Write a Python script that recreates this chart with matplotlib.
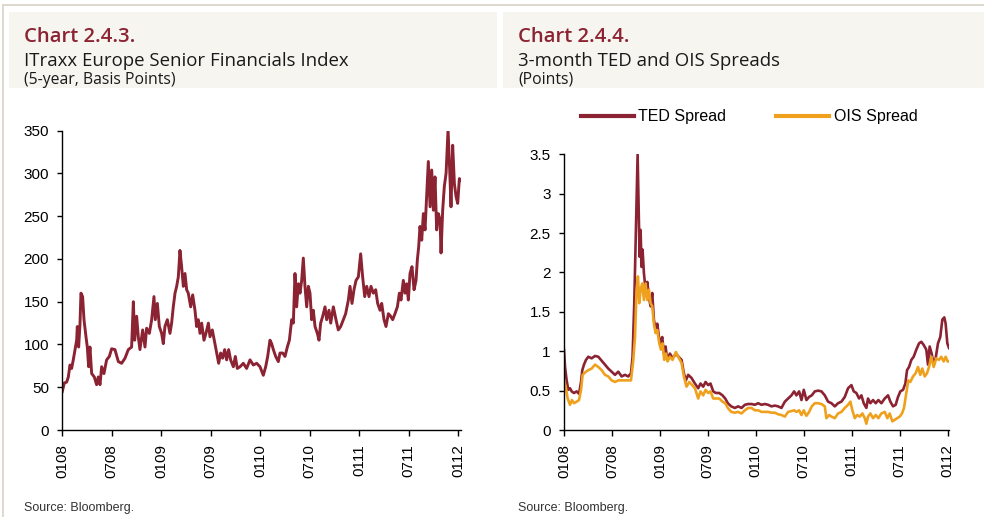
import matplotlib
matplotlib.use("Agg")
import matplotlib.pyplot as plt
from matplotlib.patches import Rectangle
from matplotlib.lines import Line2D
from matplotlib.ticker import FuncFormatter

# ---------------- data ----------------
tick_months = [0, 6, 12, 18, 24, 30, 36, 42, 48]
tick_labels = ["0108", "0708", "0109", "0709", "0110", "0710", "0111", "0711", "0112"]

# months since Jan 2008
itraxx_month = [
    0.00, 0.24, 0.53, 0.73, 0.93, 1.13, 1.33, 1.54, 1.74, 1.82,
    1.98, 2.14, 2.26, 2.46, 2.63, 2.87, 3.03, 3.19, 3.35, 3.56,
    3.88, 4.16, 4.36, 4.57, 4.77, 5.05, 5.37, 5.70, 5.98, 6.38,
    6.79, 7.19, 7.60, 8.00, 8.40, 8.61, 8.77, 9.01, 9.21, 9.41,
    9.74, 10.02, 10.22, 10.55, 10.83, 11.11, 11.27, 11.52, 11.76, 12.04,
    12.24, 12.44, 12.73, 13.05, 13.25, 13.45, 13.66, 13.86, 14.06, 14.26,
    14.46, 14.67, 14.87, 15.07, 15.27, 15.56, 15.80, 16.08, 16.28, 16.48,
    16.69, 16.89, 17.17, 17.41, 17.70, 17.90, 18.18, 18.42, 18.71, 18.95,
    19.19, 19.43, 19.68, 19.92, 20.16, 20.40, 20.73, 20.97, 21.21, 21.54,
    21.94, 22.34, 22.75, 23.15, 23.56, 23.96, 24.36, 24.65, 24.89, 25.17,
    25.37, 25.58, 25.86, 26.18, 26.38, 26.71, 26.99, 27.27, 27.52, 27.80,
    28.00, 28.20, 28.40, 28.61, 28.81, 29.01, 29.21, 29.41, 29.62, 29.82,
    30.02, 30.22, 30.42, 30.63, 30.91, 31.11, 31.31, 31.56, 31.84, 32.04,
    32.32, 32.53, 32.85, 33.17, 33.45, 33.74, 34.06, 34.34, 34.67, 34.87,
    35.11, 35.35, 35.60, 35.88, 36.16, 36.40, 36.65, 36.89, 37.17, 37.41,
    37.70, 37.98, 38.22, 38.51, 38.71, 38.99, 39.23, 39.52, 39.80, 40.04,
    40.32, 40.61, 40.85, 41.05, 41.33, 41.54, 41.74, 41.94, 42.14, 42.38,
    42.63, 42.87, 43.03, 43.19, 43.35, 43.56, 43.76, 43.96, 44.16, 44.36,
    44.57, 44.77, 44.97, 45.17, 45.37, 45.58, 45.78, 45.90, 46.10, 46.30,
    46.51, 46.75, 46.95, 47.11, 47.31, 47.52, 47.72, 47.92, 48.12, 48.32,
]
itraxx_bp = [
    45, 55, 56, 62, 76, 72, 82, 94, 105, 121,
    97, 123, 160, 156, 129, 109, 97, 74, 97, 66,
    62, 53, 62, 53, 74, 66, 82, 86, 95, 94,
    80, 78, 84, 94, 97, 150, 105, 133, 109, 94,
    117, 97, 119, 113, 129, 156, 129, 148, 121, 113,
    101, 121, 129, 113, 125, 144, 160, 168, 179, 210,
    191, 168, 183, 164, 160, 144, 158, 140, 121, 129,
    113, 125, 105, 113, 125, 109, 117, 105, 90, 78,
    90, 84, 94, 82, 94, 82, 74, 86, 72, 74,
    78, 72, 82, 76, 78, 74, 64, 74, 86, 105,
    101, 94, 86, 80, 90, 90, 86, 97, 105, 129,
    125, 183, 144, 171, 160, 175, 201, 168, 144, 168,
    160, 129, 140, 121, 113, 105, 125, 133, 144, 129,
    140, 125, 144, 129, 117, 121, 129, 136, 152, 168,
    148, 164, 175, 179, 206, 179, 156, 168, 156, 168,
    160, 164, 148, 140, 148, 129, 121, 136, 133, 129,
    136, 144, 160, 152, 175, 160, 171, 152, 183, 191,
    164, 175, 199, 214, 238, 222, 253, 234, 273, 314,
    261, 304, 257, 296, 234, 253, 246, 207, 257, 285,
    300, 351, 304, 261, 333, 288, 273, 265, 294, 292,
]

ted_month = [
    0.00, 0.13, 0.33, 0.54, 0.75, 0.96, 1.25, 1.58, 1.88, 2.13,
    2.29, 2.50, 2.75, 3.04, 3.46, 3.88, 4.29, 4.71, 5.13, 5.54,
    5.96, 6.38, 6.79, 7.21, 7.63, 8.04, 8.38, 8.58, 8.79, 8.96,
    9.08, 9.21, 9.33, 9.46, 9.58, 9.71, 9.83, 10.00, 10.21, 10.42,
    10.63, 10.83, 11.04, 11.25, 11.46, 11.67, 11.88, 12.08, 12.29, 12.50,
    12.71, 12.92, 13.25, 13.58, 14.00, 14.33, 14.71, 15.00, 15.25, 15.54,
    15.96, 16.38, 16.79, 17.08, 17.42, 17.71, 18.04, 18.33, 18.67, 19.00,
    19.42, 19.83, 20.17, 20.50, 20.92, 21.38, 21.79, 22.21, 22.63, 23.04,
    23.46, 23.88, 24.29, 24.71, 25.13, 25.54, 25.96, 26.38, 26.79, 27.21,
    27.63, 28.04, 28.46, 28.79, 29.08, 29.42, 29.71, 30.00, 30.33, 30.67,
    31.00, 31.38, 31.79, 32.21, 32.63, 33.04, 33.46, 33.88, 34.29, 34.71,
    35.13, 35.54, 35.96, 36.25, 36.58, 36.92, 37.21, 37.50, 37.83, 38.04,
    38.33, 38.67, 39.00, 39.33, 39.71, 40.13, 40.54, 40.83, 41.17, 41.50,
    41.79, 42.08, 42.42, 42.71, 42.92, 43.17, 43.46, 43.75, 44.08, 44.42,
    44.71, 45.00, 45.33, 45.54, 45.75, 46.00, 46.25, 46.50, 46.79, 47.08,
    47.33, 47.58, 47.75, 47.96, 48.17,
]
ted_spread = [
    1.02, 0.80, 0.63, 0.51, 0.53, 0.49, 0.47, 0.49, 0.46, 0.61,
    0.76, 0.83, 0.89, 0.93, 0.91, 0.94, 0.93, 0.88, 0.83, 0.78,
    0.74, 0.70, 0.74, 0.68, 0.70, 0.68, 0.72, 0.93, 1.61, 2.37,
    2.96, 3.50, 2.84, 2.20, 2.54, 2.07, 2.29, 1.99, 1.78, 1.88,
    1.69, 1.57, 1.74, 1.40, 1.27, 1.35, 1.18, 1.10, 1.18, 0.97,
    1.06, 0.89, 0.97, 0.91, 0.97, 0.93, 0.89, 0.72, 0.63, 0.70,
    0.66, 0.59, 0.53, 0.59, 0.55, 0.61, 0.57, 0.59, 0.49, 0.47,
    0.47, 0.44, 0.40, 0.34, 0.30, 0.28, 0.30, 0.28, 0.32, 0.33,
    0.33, 0.32, 0.34, 0.32, 0.33, 0.32, 0.30, 0.31, 0.30, 0.28,
    0.36, 0.40, 0.44, 0.49, 0.44, 0.49, 0.38, 0.51, 0.38, 0.42,
    0.44, 0.49, 0.50, 0.49, 0.44, 0.36, 0.34, 0.30, 0.34, 0.36,
    0.42, 0.53, 0.57, 0.49, 0.47, 0.40, 0.44, 0.34, 0.28, 0.40,
    0.34, 0.38, 0.34, 0.38, 0.34, 0.40, 0.44, 0.36, 0.30, 0.32,
    0.42, 0.49, 0.51, 0.59, 0.76, 0.80, 0.89, 0.93, 1.02, 1.10,
    1.12, 1.08, 1.02, 0.83, 1.06, 0.97, 0.83, 0.91, 1.10, 1.18,
    1.40, 1.43, 1.35, 1.10, 1.04,
]

ois_month = [
    0.00, 0.21, 0.46, 0.75, 1.00, 1.25, 1.58, 1.88, 2.13, 2.33,
    2.63, 3.04, 3.46, 3.88, 4.29, 4.71, 5.13, 5.54, 5.96, 6.38,
    6.79, 7.21, 7.63, 8.04, 8.38, 8.67, 8.88, 9.08, 9.25, 9.42,
    9.58, 9.79, 10.00, 10.21, 10.42, 10.63, 10.83, 11.04, 11.25, 11.46,
    11.67, 11.92, 12.13, 12.33, 12.54, 12.75, 12.96, 13.25, 13.58, 14.00,
    14.29, 14.71, 15.00, 15.33, 15.67, 16.04, 16.38, 16.79, 17.08, 17.42,
    17.71, 18.04, 18.33, 18.67, 19.08, 19.42, 19.83, 20.17, 20.50, 20.92,
    21.38, 21.79, 22.21, 22.63, 23.04, 23.46, 23.88, 24.29, 24.71, 25.13,
    25.54, 25.96, 26.38, 26.79, 27.21, 27.63, 28.04, 28.46, 28.79, 29.08,
    29.42, 29.71, 30.00, 30.33, 30.67, 31.00, 31.38, 31.79, 32.21, 32.63,
    32.83, 33.17, 33.46, 33.88, 34.29, 34.71, 35.13, 35.54, 35.83, 36.08,
    36.38, 36.67, 37.00, 37.33, 37.63, 37.83, 38.04, 38.33, 38.67, 39.00,
    39.33, 39.71, 40.13, 40.46, 40.75, 41.08, 41.38, 41.67, 42.00, 42.29,
    42.54, 42.75, 43.08, 43.33, 43.67, 44.00, 44.29, 44.58, 44.83, 45.13,
    45.42, 45.67, 45.96, 46.25, 46.58, 46.92, 47.21, 47.50, 47.75, 48.00,
    48.17,
]
ois_spread = [
    0.63, 0.55, 0.40, 0.32, 0.38, 0.34, 0.36, 0.38, 0.51, 0.70,
    0.73, 0.76, 0.78, 0.83, 0.80, 0.76, 0.70, 0.68, 0.63, 0.61,
    0.63, 0.63, 0.63, 0.63, 0.63, 0.89, 1.18, 1.78, 1.95, 1.61,
    1.78, 1.86, 1.65, 1.86, 1.65, 1.78, 1.61, 1.57, 1.35, 1.23,
    1.27, 1.10, 1.02, 1.10, 0.89, 0.97, 0.87, 0.93, 0.89, 0.99,
    0.93, 0.85, 0.68, 0.55, 0.61, 0.57, 0.53, 0.40, 0.49, 0.44,
    0.51, 0.47, 0.49, 0.40, 0.40, 0.40, 0.36, 0.34, 0.28, 0.23,
    0.22, 0.23, 0.21, 0.25, 0.28, 0.28, 0.25, 0.25, 0.23, 0.23,
    0.23, 0.22, 0.22, 0.20, 0.19, 0.17, 0.23, 0.24, 0.25, 0.23,
    0.25, 0.19, 0.25, 0.18, 0.23, 0.30, 0.34, 0.34, 0.33, 0.30,
    0.15, 0.19, 0.17, 0.15, 0.21, 0.23, 0.28, 0.32, 0.36, 0.25,
    0.15, 0.19, 0.17, 0.21, 0.15, 0.08, 0.17, 0.21, 0.15, 0.19,
    0.15, 0.21, 0.23, 0.15, 0.21, 0.11, 0.13, 0.15, 0.17, 0.21,
    0.28, 0.42, 0.63, 0.61, 0.68, 0.72, 0.80, 0.70, 0.78, 0.68,
    0.72, 0.80, 0.93, 0.80, 0.91, 0.89, 0.93, 0.87, 0.93, 0.87,
    0.87,
]

left_yticks = [0, 50, 100, 150, 200, 250, 300, 350]
right_yticks = [0, 0.5, 1, 1.5, 2, 2.5, 3, 3.5]

# ---------------- style ----------------
DARK_RED = "#8B2332"
ORANGE = "#EFA11E"
HEADER_BG = "#F6F5F0"
FRAME = "#D9D3C7"
TITLE_FONT = ["Open Sans", "DejaVu Sans"]
BODY_FONT = ["Liberation Sans", "DejaVu Sans"]

W, H = 984, 517
fig = plt.figure(figsize=(W / 100, H / 100), dpi=100)


def fx(px):
    return px / W


def fy(py):
    return 1 - py / H


# frame lines
fig.add_artist(Line2D([fx(3), 1], [fy(5), fy(5)], color=FRAME, lw=1.2))
fig.add_artist(Line2D([fx(3), fx(3)], [fy(5), 0], color=FRAME, lw=1.2))

# header boxes
fig.add_artist(Rectangle((fx(9), fy(88)), fx(497) - fx(9), fy(12) - fy(88),
                         facecolor=HEADER_BG, edgecolor="none", transform=fig.transFigure, zorder=0))
fig.add_artist(Rectangle((fx(503), fy(88)), 1 - fx(503), fy(12) - fy(88),
                         facecolor=HEADER_BG, edgecolor="none", transform=fig.transFigure, zorder=0))

# header texts
for x0, t1, t2, t3 in [(24, "Chart 2.4.3.", "ITraxx Europe Senior Financials Index", "(5-year, Basis Points)"),
                       (518, "Chart 2.4.4.", "3-month TED and OIS Spreads", "(Points)")]:
    fig.text(fx(x0), fy(42.5), t1, color=DARK_RED, fontsize=14.6, fontweight="semibold",
             family=TITLE_FONT, va="baseline", ha="left")
    fig.text(fx(x0), fy(65.5), t2, color="#1a1a1a", fontsize=13.4,
             family=TITLE_FONT, va="baseline", ha="left")
    fig.text(fx(x0), fy(84), t3, color="#1a1a1a", fontsize=11.3,
             family=TITLE_FONT, va="baseline", ha="left")
    fig.text(fx(x0), fy(508), "Source: Bloomberg.", color="#333333", fontsize=9,
             family=BODY_FONT, va="center", ha="left")


def style_axes(ax):
    for s in ["top", "right"]:
        ax.spines[s].set_visible(False)
    for s in ["left", "bottom"]:
        ax.spines[s].set_linewidth(1.0)
        ax.spines[s].set_color("black")
    ax.set_xticks(tick_months)
    ax.set_xticklabels(tick_labels, rotation=90, family=BODY_FONT, fontsize=11)
    ax.tick_params(axis="x", direction="out", length=4, width=1, pad=6)
    ax.tick_params(axis="y", direction="out", length=3.5, width=1, pad=6, labelsize=11)
    for lab in ax.get_yticklabels():
        lab.set_family(BODY_FONT)
    ax.set_facecolor("none")


# left chart
axL = fig.add_axes([fx(62.3), fy(430), fx(461) - fx(62.3), fy(130.7) - fy(430)])
axL.plot(itraxx_month, itraxx_bp, color=DARK_RED, lw=2.1, solid_joinstyle="round")
axL.set_xlim(0, itraxx_month[-1])
axL.set_ylim(0, 350)
axL.set_yticks(left_yticks)
style_axes(axL)

# right chart
axR = fig.add_axes([fx(564), fy(430), fx(949) - fx(564), fy(154.3) - fy(430)])
lt, = axR.plot(ted_month, ted_spread, color=DARK_RED, lw=1.9, solid_joinstyle="round", label="TED Spread")
lo, = axR.plot(ois_month, ois_spread, color=ORANGE, lw=1.9, solid_joinstyle="round", label="OIS Spread")
axR.set_xlim(0, ted_month[-1])
axR.set_ylim(0, 3.5)
axR.set_yticks(right_yticks)
axR.yaxis.set_major_formatter(FuncFormatter(lambda v, p: f"{v:g}"))
style_axes(axR)

leg = axR.legend(handles=[lt, lo], loc="center left", bbox_to_anchor=(fx(581), fy(117)),
                 bbox_transform=fig.transFigure, ncol=2, frameon=False, borderpad=0,
                 borderaxespad=0, handlelength=3.3, handletextpad=0.3, columnspacing=3.1,
                 prop={"family": BODY_FONT, "size": 11.5})
for h in leg.get_lines():
    h.set_linewidth(3)

fig.savefig("out.png", dpi=100, facecolor="white")
